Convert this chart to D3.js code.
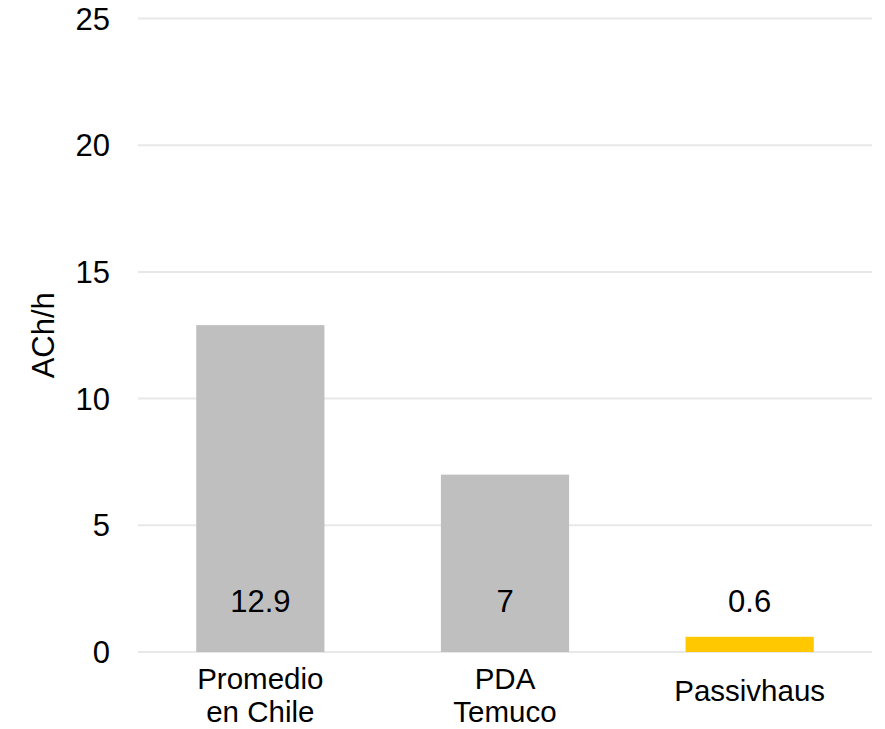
<!DOCTYPE html>
<html><head><meta charset="utf-8">
<script src="https://cdn.jsdelivr.net/npm/d3@7"></script>
<style>body{margin:0;background:#fff}</style>
</head><body>
<svg id="c" width="885" height="729"></svg>
<script>
const categories = [["Promedio","en Chile"],["PDA","Temuco"],["Passivhaus"]];
const values = [12.9, 7, 0.6];
const valueLabels = ["12.9","7","0.6"];
const barColors = ["#bfbfbf","#bfbfbf","#ffc800"];
const yTicks = [0,5,10,15,20,25];
const yLabel = "ACh/h";

const svg = d3.select("#c");
const m = {l:138, r:13, t:18.5, b:77};
const W = 885, H = 729;
const x = d3.scaleBand().domain(d3.range(values.length)).range([m.l, W-m.r]).paddingInner(0.476).paddingOuter(0.238);
const y = d3.scaleLinear().domain([0,25]).range([H-m.b, m.t]);
const font = "Liberation Sans, Arial, sans-serif";
const fs = 31;

svg.append("g").selectAll("line").data(yTicks).join("line")
  .attr("x1", m.l).attr("x2", W-m.r)
  .attr("y1", d=>y(d)).attr("y2", d=>y(d))
  .attr("stroke", "#e8e8e8").attr("stroke-width", 2);

svg.append("g").selectAll("text").data(yTicks).join("text")
  .attr("x", 110).attr("y", d=>y(d)).attr("dy","0.36em")
  .attr("text-anchor","end").attr("font-family",font).attr("font-size",fs)
  .attr("fill","#000").text(d=>d);

svg.append("g").selectAll("rect").data(values).join("rect")
  .attr("x",(d,i)=>x(i)).attr("width",x.bandwidth())
  .attr("y",d=>y(d)).attr("height",d=>y(0)-y(d))
  .attr("fill",(d,i)=>barColors[i]);

svg.append("g").selectAll("text").data(valueLabels).join("text")
  .attr("x",(d,i)=>x(i)+x.bandwidth()/2).attr("y", y(0)-40)
  .attr("text-anchor","middle").attr("font-family",font).attr("font-size",fs)
  .attr("fill","#000").text(d=>d);

const cl = svg.append("g").selectAll("text").data(categories).join("text")
  .attr("x",(d,i)=>x(i)+x.bandwidth()/2)
  .attr("y",d=> d.length===1 ? y(0)+49 : y(0)+37)
  .attr("text-anchor","middle").attr("font-family",font).attr("font-size",29.5).attr("fill","#000");
cl.selectAll("tspan").data(d=>d).join("tspan")
  .attr("x",function(){return this.parentNode.getAttribute("x");})
  .attr("dy",(d,i)=>i===0?0:33).text(d=>d);

svg.append("text")
  .attr("transform",`translate(54,${(y(15)+y(10))/2}) rotate(-90)`)
  .attr("text-anchor","middle").attr("font-family",font).attr("font-size",fs)
  .attr("fill","#000").text(yLabel);
</script>
</body></html>
